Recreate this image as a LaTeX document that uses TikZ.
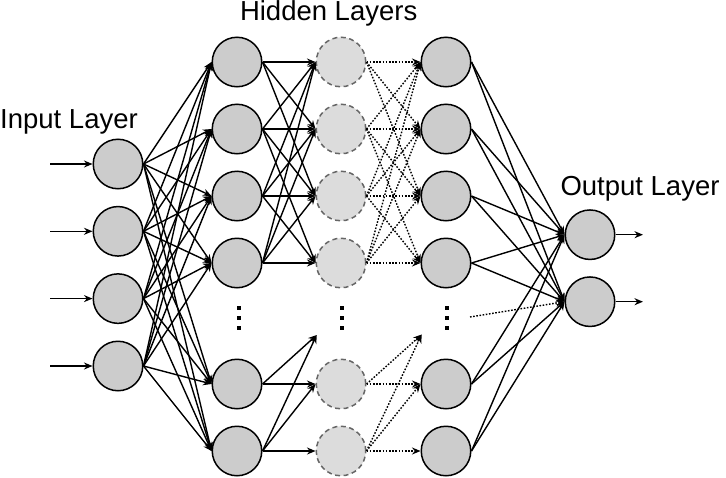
\documentclass[tikz,border=0pt]{standalone}
\usepackage{fontspec}
\setmainfont{Liberation Sans}
\usepackage{tikz}
\usetikzlibrary{arrows.meta}
\definecolor{nnFill}{HTML}{CCCCCC}
\definecolor{nnFillLight}{HTML}{DCDCDC}
\definecolor{nnDash}{HTML}{666666}
\newcommand{\nnvdots}{\vbox{\offinterlineskip
  \hbox{\rule{3.5pt}{3.5pt}}\vskip6.5pt
  \hbox{\rule{3.5pt}{3.5pt}}\vskip6.5pt
  \hbox{\rule{3.5pt}{3.5pt}}}}
\tikzset{
  nn/neuron/.style   = {circle, draw=black, fill=nnFill, line width=1.5pt,
                        minimum size=49.5pt, inner sep=0pt},
  nn/ghost/.style    = {nn/neuron, fill=nnFillLight, draw=nnDash,
                        dash pattern=on 5pt off 3.5pt},
  nn/arrow/.style    = {-{Stealth[length=8.5pt, width=7pt]}, line width=1.4pt},
  nn/dotarrow/.style = {nn/arrow, dash pattern=on 1.6pt off 1.6pt},
  nn/title/.style    = {font=\fontsize{27.5}{33}\selectfont, anchor=base west, inner sep=0pt},
  nn/dots/.style     = {inner sep=0pt},
}

\begin{document}
\begin{tikzpicture}[x=1pt, y=-1pt]
      \useasboundingbox (0,0) rectangle (726,477);
      % layer titles
      \node[nn/title] (tin)  at (0,128.3)    {Input Layer};
      \node[nn/title] (thid) at (239.8,20.7) {Hidden Layers};
      \node[nn/title] (tout) at (560.3,195)  {Output Layer};
      % input layer
      \node[nn/neuron] (i1) at (118,164)   {};
      \node[nn/neuron] (i2) at (118,231.3) {};
      \node[nn/neuron] (i3) at (118,298.6) {};
      \node[nn/neuron] (i4) at (118,366)   {};
      % first hidden layer
      \node[nn/neuron] (a1) at (237,62)  {};
      \node[nn/neuron] (a2) at (237,129) {};
      \node[nn/neuron] (a3) at (237,196) {};
      \node[nn/neuron] (a4) at (237,263) {};
      \node[nn/dots]   (ad) at (239,318) {\nnvdots};
      \node[nn/neuron] (a5) at (237,384) {};
      \node[nn/neuron] (a6) at (237,451) {};
      % middle hidden layer (dashed)
      \node[nn/ghost] (b1) at (341,62)  {};
      \node[nn/ghost] (b2) at (341,129) {};
      \node[nn/ghost] (b3) at (341,196) {};
      \node[nn/ghost] (b4) at (341,263) {};
      \node[nn/dots]  (bd) at (342,318) {\nnvdots};
      \node[nn/ghost] (b5) at (341,384) {};
      \node[nn/ghost] (b6) at (341,451) {};
      % last hidden layer
      \node[nn/neuron] (c1) at (446,62)  {};
      \node[nn/neuron] (c2) at (446,129) {};
      \node[nn/neuron] (c3) at (446,196) {};
      \node[nn/neuron] (c4) at (446,263) {};
      \node[nn/dots]   (cd) at (447,318) {\nnvdots};
      \node[nn/neuron] (c5) at (446,384) {};
      \node[nn/neuron] (c6) at (446,451) {};
      % output layer
      \node[nn/neuron] (o1) at (590,234.7) {};
      \node[nn/neuron] (o2) at (590,301.7) {};
      % free ends
      \coordinate (s1) at (50,164);
      \coordinate (s2) at (50,231.3);
      \coordinate (s3) at (50,298.6);
      \coordinate (s4) at (50,366);
      \coordinate (t1) at (643,234.7);
      \coordinate (t2) at (643,301.7);
      \coordinate (bgap) at (316.7,335);
      \coordinate (cgap) at (421.7,334.5);
      \coordinate (cdots) at (470,317);
      % inputs and outputs
      \foreach \k in {1,...,4} \draw[nn/arrow] (s\k) -- (i\k.west);
      \foreach \k in {1,2} \draw[nn/arrow] (o\k.east) -- (t\k);
      % input -> first hidden
      \foreach \s in {1,...,4} \foreach \t in {1,...,6}
        \draw[nn/arrow] (i\s.east) -- (a\t.west);
      % first hidden -> middle hidden
      \foreach \s/\t in {1/1,1/2,1/3,2/1,2/2,2/3,2/4,3/1,3/2,3/3,3/4,
                         4/1,4/2,4/3,4/4,5/5,6/5,6/6}
        \draw[nn/arrow] (a\s.east) -- (b\t.west);
      \draw[nn/arrow] (a5.east) -- (bgap);
      \draw[nn/arrow] (a6.east) -- (bgap);
      % middle hidden -> last hidden
      \foreach \s/\t in {1/1,1/2,1/3,2/1,2/2,2/3,2/4,3/1,3/2,3/3,3/4,
                         4/1,4/2,4/3,4/4,5/5,6/5,6/6}
        \draw[nn/dotarrow] (b\s.east) -- (c\t.west);
      \draw[nn/dotarrow] (b5.east) -- (cgap);
      \draw[nn/dotarrow] (b6.east) -- (cgap);
      % last hidden -> output
      \foreach \s in {1,...,6} \foreach \t in {1,2}
        \draw[nn/arrow] (c\s.east) -- (o\t.west);
      \draw[nn/dotarrow] (cdots) -- (o2.west);
    \end{tikzpicture}
\end{document}
